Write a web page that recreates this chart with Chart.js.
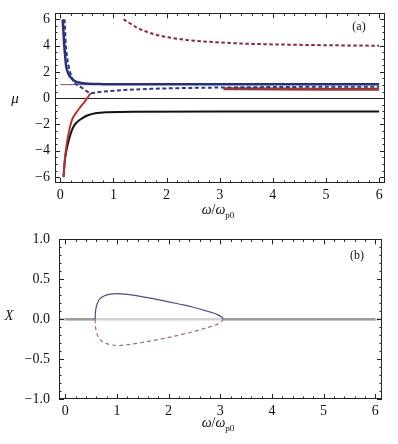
<!DOCTYPE html>
<html>
<head>
<meta charset="utf-8">
<script src="https://cdn.jsdelivr.net/npm/chart.js@4.4.1/dist/chart.umd.min.js"></script>
<style>
body { margin:0; background:#fff; }
#wrap { position:relative; width:398px; height:444px; font-family:"Liberation Serif", "DejaVu Serif", serif; color:#111; }
canvas { position:absolute; left:0; }
#ca { top:0; }
#cb { top:222px; }
.lbl { position:absolute; transform:translate(-50%,-50%); font-size:14px; white-space:nowrap; line-height:1; }
.lbl sub { font-size:9px; vertical-align:-4px; }
</style>
</head>
<body>
<div id="wrap">
  <canvas id="ca" width="398" height="222"></canvas>
  <canvas id="cb" width="398" height="222"></canvas>
  <div class="lbl" style="left:15px;top:98px;font-size:15px"><i>μ</i></div>
  <div class="lbl" style="left:9px;top:316px"><i>X</i></div>
  <div class="lbl" style="left:218px;top:211px"><i>ω</i>/<i>ω</i><sub>p0</sub></div>
  <div class="lbl" style="left:218px;top:424px"><i>ω</i>/<i>ω</i><sub>p0</sub></div>
  <div class="lbl" style="left:359px;top:26px;font-size:12px">(a)</div>
  <div class="lbl" style="left:357px;top:255px;font-size:12px">(b)</div>
</div>
<script>
// tick labels
var wTicks = [0, 1, 2, 3, 4, 5, 6];
var muTicks = [-6, -4, -2, 0, 2, 4, 6];
var xbTicks = [-1, -0.5, 0, 0.5, 1];

// panel (a) : mu against omega/omega_p0
var blueW  = [0.043, 0.056, 0.07, 0.094, 0.11, 0.13, 0.156, 0.2, 0.28, 0.4, 0.53, 0.8, 1.5, 3, 6];
var blueMu = [6.0, 5.3, 4.3, 3.07, 2.45, 2.1, 1.83, 1.55, 1.28, 1.15, 1.09, 1.07, 1.06, 1.06, 1.06];

var dashW  = [0.08, 0.09, 0.1, 0.13, 0.16, 0.19, 0.22, 0.26, 0.32, 0.4, 0.48, 0.57, 0.7, 0.9, 1.2, 1.7, 2.3, 3.0, 4.0, 5.0, 6.0];
var dashMu = [6.0, 5.3, 4.3, 3.07, 2.4, 1.9, 1.55, 1.2, 1.0, 0.8, 0.58, 0.38, 0.45, 0.53, 0.62, 0.71, 0.77, 0.81, 0.85, 0.87, 0.88];

var redW  = [0.06, 0.08, 0.1, 0.125, 0.16, 0.22, 0.3, 0.38, 0.47, 0.57];
var redMu = [-6.0, -4.9, -4.1, -3.39, -2.6, -1.65, -1.1, -0.66, -0.2, 0.38];

var red2W  = [3.07, 4, 5, 6];
var red2Mu = [0.72, 0.7, 0.69, 0.69];

var blackW  = [0.06, 0.08, 0.1, 0.13, 0.16, 0.2, 0.25, 0.32, 0.41, 0.52, 0.66, 0.9, 1.4, 3, 6];
var blackMu = [-6.0, -5.0, -4.3, -3.7, -3.2, -2.65, -2.15, -1.8, -1.53, -1.3, -1.15, -1.07, -1.03, -1.02, -1.02];

var topW  = [1.19, 1.3, 1.45, 1.66, 1.94, 2.38, 3.0, 3.63, 4.3, 5.0, 6.0];
var topMu = [6.0, 5.72, 5.35, 5.0, 4.7, 4.43, 4.24, 4.13, 4.07, 4.03, 3.99];

var thinW  = [0, 0.6];
var thinMu = [1.03, 1.03];

// panel (b) : X against omega/omega_p0
var bW  = [0.58, 0.585, 0.6, 0.63, 0.68, 0.75, 0.85, 1.0, 1.2, 1.5, 1.84, 2.2, 2.48, 2.75, 2.92, 3.02, 3.06];
var bX  = [0, 0.08, 0.15, 0.21, 0.26, 0.29, 0.31, 0.32, 0.31, 0.28, 0.24, 0.19, 0.15, 0.1, 0.065, 0.03, 0];
var bXn = [0, -0.08, -0.15, -0.21, -0.26, -0.295, -0.315, -0.33, -0.32, -0.29, -0.25, -0.2, -0.155, -0.105, -0.07, -0.03, 0];
var grayW1 = [0, 0.58];
var grayW2 = [3.06, 6];
var grayX  = [0, 0];

var pts = function(xs, ys){
  return xs.map(function(x, i){ return {x: x, y: ys[i]}; });
};
var minus = function(v){ return String(v).replace('-', '\u2212'); };

var line = function(xs, ys, color, width, dash){
  return {
    data: pts(xs, ys),
    borderColor: color,
    borderWidth: width,
    borderDash: dash || [],
    showLine: true,
    pointRadius: 0,
    cubicInterpolationMode: 'monotone',
    fill: false
  };
};

// frame round the plot, with inward ticks on all four sides
var frameTicks = {
  id: 'frameTicks',
  afterDraw: function(chart, args, o){
    var ctx = chart.ctx, a = chart.chartArea;
    var sx = chart.scales.x, sy = chart.scales.y;
    ctx.save();
    ctx.strokeStyle = '#222';
    ctx.lineWidth = 1;
    ctx.strokeRect(Math.round(a.left)+0.5, Math.round(a.top)+0.5, Math.round(a.right-a.left)-1, Math.round(a.bottom-a.top)-1);
    ctx.beginPath();
    var v, p, len, k;
    for (k = 0; ; k++) {
      v = o.xFrom + k*o.xMinor;
      if (v > sx.max + 1e-9) break;
      if (v < sx.min) continue;
      len = Math.abs(v/o.xMajor - Math.round(v/o.xMajor)) < 1e-6 ? 5 : 2.5;
      p = Math.round(sx.getPixelForValue(v)) + 0.5;
      ctx.moveTo(p, a.bottom); ctx.lineTo(p, a.bottom - len);
      ctx.moveTo(p, a.top); ctx.lineTo(p, a.top + len);
    }
    for (k = 0; ; k++) {
      v = o.yFrom + k*o.yMinor;
      if (v > sy.max + 1e-9) break;
      if (v < sy.min) continue;
      len = Math.abs(v/o.yMajor - Math.round(v/o.yMajor)) < 1e-6 ? 5 : 2.5;
      p = Math.round(sy.getPixelForValue(v)) + 0.5;
      ctx.moveTo(a.left, p); ctx.lineTo(a.left + len, p);
      ctx.moveTo(a.right, p); ctx.lineTo(a.right - len, p);
    }
    ctx.stroke();
    ctx.restore();
  }
};

var tickFont = {family: '"Liberation Serif", "DejaVu Serif", serif', size: 14};

var makeOptions = function(cfg){
  return {
    responsive: false,
    animation: false,
    events: [],
    layout: {padding: cfg.pad},
    plugins: {legend: {display: false}, tooltip: {enabled: false}, frameTicks: cfg.frame},
    scales: {
      x: {
        type: 'linear', min: cfg.xMin, max: cfg.xMax,
        afterBuildTicks: function(s){ s.ticks = wTicks.map(function(v){ return {value: v}; }); },
        afterFit: function(s){ s.height = cfg.xH; },
        border: {display: false},
        grid: {display: false, drawTicks: false},
        ticks: {font: tickFont, color: '#111', padding: cfg.xPad, maxRotation: 0, minRotation: 0, autoSkip: false}
      },
      y: {
        type: 'linear', min: cfg.yMin, max: cfg.yMax,
        afterBuildTicks: function(s){ s.ticks = cfg.yTicks.map(function(v){ return {value: v}; }); },
        afterFit: function(s){ s.width = cfg.yW; },
        border: {display: false},
        grid: {
          drawTicks: false,
          lineWidth: cfg.zeroWidth,
          color: function(c){ return c.tick && c.tick.value === 0 ? cfg.zeroColor : 'rgba(0,0,0,0)'; }
        },
        ticks: {font: tickFont, color: '#111', padding: cfg.yPad, autoSkip: false, callback: cfg.yFmt}
      }
    }
  };
};

new Chart(document.getElementById('ca'), {
  type: 'scatter',
  data: {datasets: [
    line(dashW, dashMu, '#2b3a8e', 2, [4, 2.5]),
    line(blueW, blueMu, '#26307a', 2.5),
    line(thinW, thinMu, '#7a4a80', 1),
    line(topW, topMu, '#8a2a3c', 2, [3.5, 2.5]),
    line(red2W, red2Mu, '#9a3838', 3),
    line(redW, redMu, '#b03434', 2),
    line(blackW, blackMu, '#111111', 2)
  ]},
  options: makeOptions({
    pad: {top: 10, right: 13, left: 0, bottom: 0},
    xMin: -0.1, xMax: 6.11, yMin: -6.45, yMax: 6.45,
    xH: 39, yW: 55, xPad: 4, yPad: 5,
    yTicks: muTicks, yFmt: function(v){ return minus(v); },
    zeroColor: '#222', zeroWidth: 1,
    frame: {xFrom: -0.2, xMinor: 0.2, xMajor: 1, yFrom: -7, yMinor: 0.5, yMajor: 2}
  }),
  plugins: [frameTicks]
});

new Chart(document.getElementById('cb'), {
  type: 'scatter',
  data: {datasets: [
    line(bW, bX, '#4a4f8c', 1.2),
    line(bW, bXn, '#a46a7c', 1.2, [4, 3]),
    line(grayW1, grayX, '#9c9c9c', 2.5),
    line(grayW2, grayX, '#9c9c9c', 2.5)
  ]},
  options: makeOptions({
    pad: {top: 11, right: 16, left: 0, bottom: 0},
    xMin: -0.12, xMax: 6.13, yMin: -1, yMax: 1,
    xH: 45, yW: 59, xPad: 4, yPad: 9,
    yTicks: xbTicks, yFmt: function(v){ return minus(v.toFixed(1)); },
    zeroColor: '#d2d2d2', zeroWidth: 2.5,
    frame: {xFrom: -0.2, xMinor: 0.2, xMajor: 1, yFrom: -1, yMinor: 0.1, yMajor: 0.5}
  }),
  plugins: [frameTicks]
});
</script>
</body>
</html>
